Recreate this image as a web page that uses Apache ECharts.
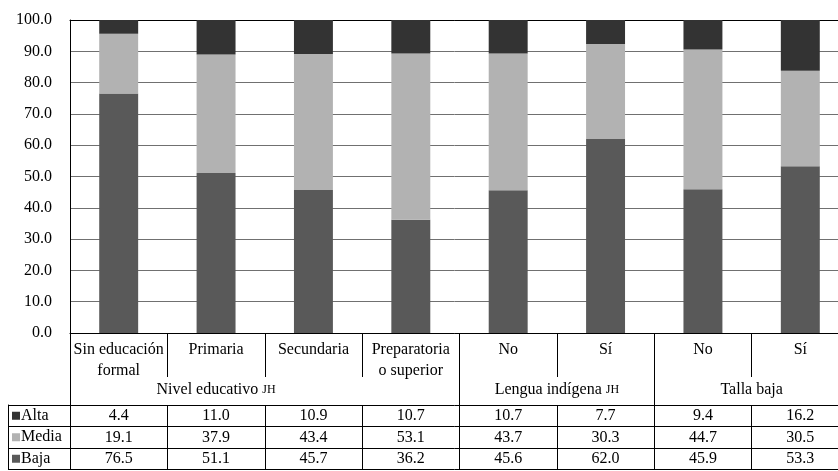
<!DOCTYPE html>
<html><head><meta charset="utf-8">
<script src="https://cdn.jsdelivr.net/npm/echarts@6/dist/echarts.min.js"></script>
<style>html,body{margin:0;padding:0;background:#fff}#c{width:838px;height:471px}</style>
</head><body><div id="c"></div>
<script>
// ---- data ----
const categories = ['Sin educación\nformal', 'Primaria', 'Secundaria', 'Preparatoria\no superior', 'No', 'Sí', 'No', 'Sí'];
const groupNames = ['Nivel educativo', 'Lengua indígena', 'Talla baja'];
const groupSuffix = ['JH', 'JH', ''];
const groupStart = [0, 4, 6];          // first category index of each group
const groupLabelAt = [1.5, 5, 7];      // where each group label sits (category units)
const seriesNames = ['Alta', 'Media', 'Baja'];
const alta  = [4.4, 11.0, 10.9, 10.7, 10.7, 7.7, 9.4, 16.2];
const media = [19.1, 37.9, 43.4, 53.1, 43.7, 30.3, 44.7, 30.5];
const baja  = [76.5, 51.1, 45.7, 36.2, 45.6, 62.0, 45.9, 53.3];
const yMin = 0, yMax = 100, yStep = 10;

// ---- styles ----
const FONT = "'Liberation Serif', 'DejaVu Serif', serif";
const colors = { Alta: '#333333', Media: '#b2b2b2', Baja: '#595959' };
const rows = { Alta: alta, Media: media, Baja: baja };
const ROW_H = 21.5;

const chart = echarts.init(document.getElementById('c'), null, { renderer: 'canvas' });

const txt = { fontFamily: FONT, fontSize: 16, color: '#000' };
const noLine = { show: false, onZero: false };
const blackLine = { show: true, onZero: false, lineStyle: { color: '#000', width: 1 } };

const xAxes = [
  { // main category axis with category labels
    type: 'category', gridIndex: 0, data: categories, position: 'bottom',
    axisLine: blackLine,
    axisTick: { show: true, interval: 0, length: 44, lineStyle: { color: '#000' } },
    axisLabel: Object.assign({ interval: 0, margin: 6, lineHeight: 21 }, txt),
    splitLine: { show: false }
  },
  { // group separators
    type: 'category', gridIndex: 0, data: categories, position: 'bottom',
    axisLine: noLine,
    axisTick: { show: true, interval: (i) => groupStart.indexOf(i) >= 0, length: 72, lineStyle: { color: '#000' } },
    axisLabel: { show: false }, splitLine: { show: false }
  },
  { // group labels
    type: 'value', gridIndex: 0, position: 'bottom', min: 0, max: categories.length, interval: 0.5,
    axisLine: noLine, axisTick: { show: false }, splitLine: { show: false },
    axisLabel: Object.assign({
      margin: 49, lineHeight: 16, showMinLabel: true, showMaxLabel: true,
      formatter: (v) => {
        const k = groupLabelAt.indexOf(v);
        if (k < 0) return '';
        return groupSuffix[k] ? groupNames[k] + ' {sc|' + groupSuffix[k] + '}' : groupNames[k];
      },
      rich: { sc: { fontFamily: FONT, fontSize: 12, color: '#000' } }
    }, txt)
  }
];
seriesNames.forEach((name, r) => {
  xAxes.push({
    type: 'category', gridIndex: 0, data: categories, position: 'bottom', offset: 72 + r * ROW_H,
    axisLine: blackLine,
    axisTick: { show: true, interval: 0, length: ROW_H, lineStyle: { color: '#000' } },
    axisLabel: Object.assign({ interval: 0, margin: 3, lineHeight: 16, formatter: (v, i) => rows[name][i].toFixed(1) }, txt),
    splitLine: { show: false }
  });
});
xAxes.push({ // bottom border of table
  type: 'category', gridIndex: 0, data: categories, position: 'bottom', offset: 72 + 3 * ROW_H,
  axisLine: blackLine, axisTick: { show: false }, axisLabel: { show: false }, splitLine: { show: false }
});
xAxes.push({ // top border of plot
  type: 'category', gridIndex: 0, data: categories, position: 'top',
  axisLine: blackLine, axisTick: { show: false }, axisLabel: { show: false }, splitLine: { show: false }
});
xAxes.push({ type: 'category', gridIndex: 1, data: [''], show: false });

const legendRich = { t: { fontFamily: FONT, fontSize: 16, color: '#000', padding: [0, 0, 0, 1] } };
seriesNames.forEach((n, i) => { legendRich['sq' + i] = { width: 8, height: 8, backgroundColor: colors[n] }; });

const option = {
  animation: false,
  backgroundColor: '#fff',
  grid: [
    { left: 70, top: 20, width: 779, height: 313, outerBoundsMode: 'none', containLabel: false },
    { left: 8, top: 333 + 72, width: 62, height: 3 * ROW_H, outerBoundsMode: 'none', containLabel: false }
  ],
  xAxis: xAxes,
  yAxis: [
    {
      type: 'value', gridIndex: 0, min: yMin, max: yMax, interval: yStep,
      axisLine: blackLine, axisTick: { show: false },
      axisLabel: Object.assign({ margin: 18, formatter: (v) => v.toFixed(1) }, txt),
      splitLine: { show: true, lineStyle: { color: '#707070', width: 1 } }
    },
    {
      type: 'category', gridIndex: 1, data: seriesNames, inverse: true, position: 'left',
      axisLine: blackLine, axisTick: { show: false },
      axisLabel: { inside: true, margin: 4, interval: 0, align: 'left',
        formatter: (v, i) => '{sq' + i + '|}{t|' + v + '}', rich: legendRich },
      splitLine: { show: true, interval: 0, lineStyle: { color: '#000', width: 1 } }
    }
  ],
  series: ['Baja', 'Media', 'Alta'].map((n) => ({
    name: n, type: 'bar', stack: 'total', xAxisIndex: 0, yAxisIndex: 0,
    barWidth: '40%', data: rows[n], itemStyle: { color: colors[n] }
  }))
};
chart.setOption(option);
</script>
</body></html>
